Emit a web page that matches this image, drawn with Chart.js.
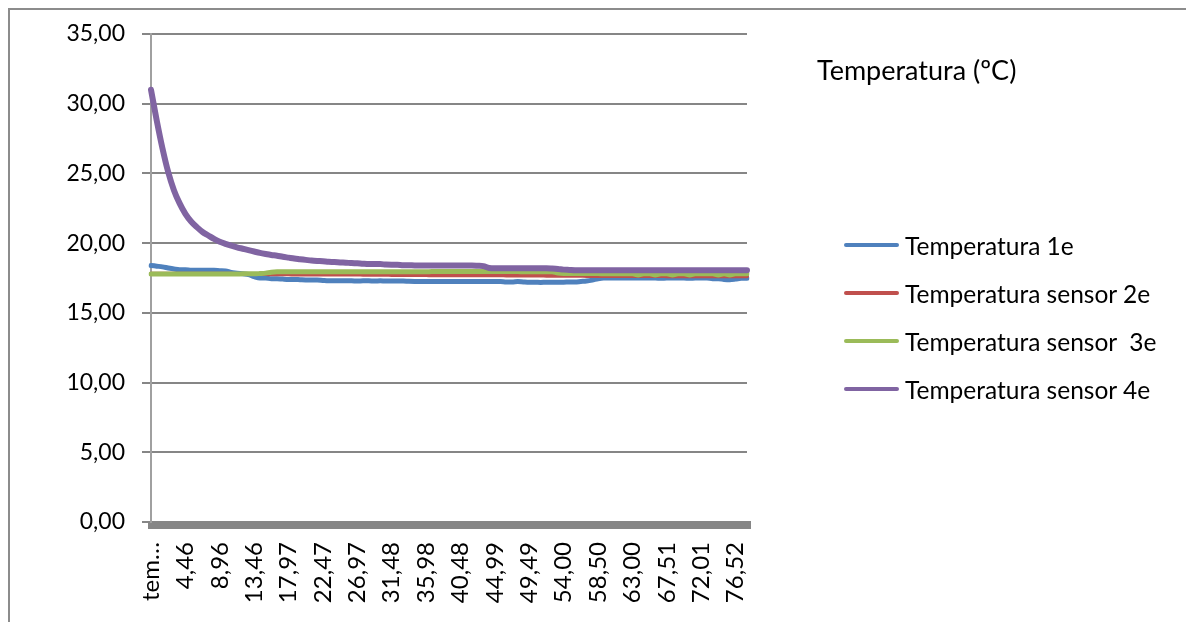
<!DOCTYPE html>
<html>
<head>
<meta charset="utf-8">
<script src="https://cdn.jsdelivr.net/npm/chart.js@4.4.1/dist/chart.umd.min.js"></script>
<style>
  html, body { margin: 0; padding: 0; background: #fff; overflow: hidden; }
  #wrap { position: relative; width: 1186px; height: 622px; font-family: Lato, "Open Sans", sans-serif; color: #000; }
  #frame { position: absolute; left: 8px; top: 8px; right: -10px; bottom: -10px; border-left: 2px solid #8c8c8c; border-top: 2px solid #8c8c8c; }
  canvas { position: absolute; left: 0; top: 0; }
  #title { position: absolute; left: 817px; top: 51px; font-size: 27px; line-height: 38px; white-space: nowrap; }
  .item { position: absolute; left: 844px; height: 36px; display: flex; align-items: center; white-space: nowrap; font-size: 24.5px; }
  .item .sw { width: 55px; height: 4px; border-radius: 2px; margin-right: 6px; }
</style>
</head>
<body>
<div id="wrap">
  <div id="frame"></div>
  <canvas id="c" width="1186" height="622"></canvas>
  <div id="title">Temperatura (ºC)</div>
  <div id="legend"></div>
</div>
<script>
const chartTitle = "Temperatura (ºC)";
const seriesNames = ["Temperatura 1e", "Temperatura sensor 2e", "Temperatura sensor  3e", "Temperatura sensor 4e"];
const seriesColors = ["#4F81BD", "#C0504D", "#9BBB59", "#8064A2"];

const categories = [
  "tem…","0,71","1,46","2,21","2,96","3,71","4,46","5,21","5,96","6,71",
  "7,46","8,21","8,96","9,71","10,46","11,21","11,96","12,71","13,46","14,21",
  "14,96","15,72","16,47","17,22","17,97","18,72","19,47","20,22","20,97","21,72",
  "22,47","23,22","23,97","24,72","25,47","26,22","26,97","27,72","28,47","29,23",
  "29,98","30,73","31,48","32,23","32,98","33,73","34,48","35,23","35,98","36,73",
  "37,48","38,23","38,98","39,73","40,48","41,23","41,99","42,74","43,49","44,24",
  "44,99","45,74","46,49","47,24","47,99","48,74","49,49","50,24","51,00","51,75",
  "52,50","53,25","54,00","54,75","55,50","56,25","57,00","57,75","58,50","59,25",
  "60,00","60,75","61,50","62,25","63,00","63,75","64,50","65,26","66,01","66,76",
  "67,51","68,26","69,01","69,76","70,51","71,26","72,01","72,76","73,51","74,26",
  "75,01","75,77","76,52","77,27","78,02"
];

const temp1e = [
  18.40,18.35,18.30,18.22,18.15,18.10,18.10,18.05,18.05,18.05,
  18.05,18.05,18.02,18.00,17.90,17.85,17.80,17.75,17.60,17.50,
  17.50,17.45,17.45,17.42,17.40,17.40,17.38,17.36,17.35,17.35,
  17.32,17.30,17.30,17.30,17.30,17.30,17.28,17.30,17.30,17.28,
  17.30,17.28,17.28,17.28,17.28,17.26,17.25,17.25,17.25,17.25,
  17.25,17.25,17.25,17.25,17.25,17.25,17.25,17.25,17.25,17.25,
  17.25,17.25,17.22,17.22,17.25,17.22,17.20,17.20,17.18,17.20,
  17.20,17.20,17.20,17.22,17.22,17.25,17.28,17.35,17.45,17.50,
  17.50,17.50,17.50,17.50,17.50,17.50,17.50,17.50,17.50,17.48,
  17.50,17.50,17.50,17.50,17.48,17.50,17.50,17.50,17.45,17.45,
  17.40,17.38,17.42,17.48,17.48
];

const sensor2e = [
  17.80,17.80,17.80,17.80,17.80,17.80,17.80,17.80,17.80,17.80,
  17.80,17.80,17.80,17.80,17.80,17.78,17.78,17.78,17.78,17.78,
  17.78,17.76,17.76,17.76,17.76,17.75,17.75,17.75,17.75,17.75,
  17.75,17.75,17.75,17.75,17.75,17.75,17.75,17.74,17.74,17.74,
  17.73,17.73,17.72,17.72,17.72,17.72,17.72,17.71,17.71,17.70,
  17.70,17.70,17.70,17.70,17.70,17.70,17.70,17.70,17.70,17.70,
  17.70,17.70,17.68,17.68,17.68,17.68,17.68,17.68,17.68,17.67,
  17.67,17.67,17.67,17.67,17.67,17.66,17.65,17.65,17.65,17.65,
  17.65,17.65,17.65,17.65,17.65,17.64,17.64,17.64,17.64,17.64,
  17.63,17.63,17.63,17.63,17.63,17.63,17.62,17.62,17.62,17.62,
  17.62,17.62,17.62,17.62,17.62
];

const sensor3e = [
  17.78,17.78,17.78,17.78,17.78,17.78,17.78,17.78,17.78,17.78,
  17.78,17.78,17.78,17.78,17.78,17.78,17.80,17.80,17.80,17.82,
  17.85,17.92,17.95,17.95,17.95,17.95,17.95,17.95,17.95,17.95,
  17.95,17.95,17.95,17.95,17.95,17.95,17.95,17.95,17.95,17.95,
  17.95,17.95,17.95,17.95,17.95,17.95,17.95,17.95,17.95,17.96,
  17.96,17.96,17.96,17.96,17.96,17.96,17.96,17.96,17.96,17.96,
  17.96,17.96,17.96,17.96,17.96,17.95,17.95,17.95,17.95,17.95,
  17.95,17.85,17.82,17.82,17.82,17.82,17.82,17.82,17.82,17.80,
  17.80,17.80,17.80,17.80,17.80,17.72,17.80,17.80,17.72,17.80,
  17.80,17.72,17.80,17.80,17.72,17.80,17.80,17.80,17.80,17.72,
  17.80,17.72,17.80,17.80,17.80
];

const sensor4e = [
  31.00,28.80,26.80,25.10,23.80,22.85,22.10,21.55,21.15,20.80,
  20.55,20.30,20.10,19.95,19.82,19.70,19.60,19.50,19.40,19.30,
  19.22,19.15,19.10,19.02,18.96,18.90,18.85,18.80,18.75,18.72,
  18.70,18.66,18.65,18.62,18.60,18.57,18.55,18.52,18.50,18.50,
  18.50,18.46,18.45,18.45,18.42,18.42,18.40,18.40,18.40,18.40,
  18.40,18.40,18.40,18.40,18.40,18.40,18.40,18.38,18.35,18.22,
  18.20,18.20,18.20,18.20,18.20,18.20,18.20,18.20,18.20,18.20,
  18.18,18.15,18.10,18.08,18.06,18.06,18.06,18.06,18.06,18.06,
  18.06,18.06,18.06,18.05,18.05,18.05,18.05,18.05,18.05,18.05,
  18.05,18.05,18.05,18.05,18.05,18.05,18.05,18.05,18.05,18.05,
  18.05,18.05,18.05,18.05,18.05
];

const yTicks = [0, 5, 10, 15, 20, 25, 30, 35];
const labelEvery = 6;

const seriesValues = [temp1e, sensor2e, sensor3e, sensor4e];
const widths = [5, 4, 5, 6];
const orders = [4, 3, 2, 1];

const FONT = "Lato, 'Open Sans', sans-serif";

const datasets = seriesValues.map((vals, i) => ({
  label: seriesNames[i],
  data: vals,
  borderColor: seriesColors[i],
  backgroundColor: seriesColors[i],
  borderWidth: widths[i],
  pointRadius: 0,
  cubicInterpolationMode: 'monotone',
  borderCapStyle: 'round',
  borderJoinStyle: 'round',
  order: orders[i]
}));

new Chart(document.getElementById('c'), {
  type: 'line',
  data: { labels: categories, datasets },
  options: {
    responsive: false,
    animation: false,
    layout: { padding: { left: 0, top: 34, right: 439, bottom: 0 } },
    plugins: { legend: { display: false }, tooltip: { enabled: false }, title: { display: false } },
    scales: {
      x: {
        type: 'category',
        offset: false,
        afterFit: (s) => { s.height = 100; },
        ticks: {
          autoSkip: false, maxRotation: 90, minRotation: 90,
          color: '#000', padding: 13,
          font: { family: FONT, size: 24 },
          callback: (v, i) => (i % labelEvery === 0 ? categories[i] : '')
        },
        grid: { drawOnChartArea: false, drawTicks: true, tickLength: 7, lineWidth: 7, tickWidth: 7, color: '#868686', tickColor: '#868686' },
        border: { display: true, color: '#868686', width: 2 }
      },
      y: {
        min: 0, max: 35,
        afterFit: (s) => { s.width = 151; },
        afterBuildTicks: (s) => { s.ticks = yTicks.map(v => ({ value: v })); },
        ticks: {
          color: '#000', padding: 17,
          font: { family: FONT, size: 23 },
          callback: (v) => Number(v).toFixed(2).replace('.', ',')
        },
        grid: { color: '#868686', lineWidth: 2, tickLength: 9, tickColor: '#868686' },
        border: { display: true, color: '#a0a0a0', width: 2 }
      }
    }
  }
});

document.getElementById('title').textContent = chartTitle;
const legendEl = document.getElementById('legend');
const rowCenters = [245, 293, 341, 389];
seriesNames.forEach((name, i) => {
  const row = document.createElement('div');
  row.className = 'item';
  row.style.top = (rowCenters[i] - 18) + 'px';
  const sw = document.createElement('span');
  sw.className = 'sw';
  sw.style.background = seriesColors[i];
  const tx = document.createElement('span');
  tx.textContent = name;
  tx.style.whiteSpace = 'pre';
  row.appendChild(sw);
  row.appendChild(tx);
  legendEl.appendChild(row);
});
</script>
</body>
</html>
